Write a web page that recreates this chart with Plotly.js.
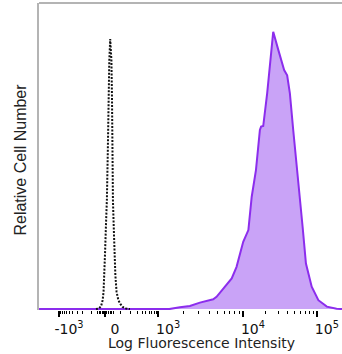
<!DOCTYPE html>
<html>
<head>
<meta charset="utf-8">
<script src="https://cdn.plot.ly/plotly-3.0.1.min.js"></script>
<style>html,body{margin:0;padding:0;background:#fff;}#chart{width:342px;height:354px;}</style>
</head>
<body>
<div id="chart"></div>
<script>
// Display channel (0-1000) and relative counts of the stained sample
var stainedChannel = [0, 430, 465, 498, 531, 553, 575, 586, 608, 636, 652, 674, 691, 702, 716, 729, 733, 740, 753, 762, 773, 790, 801, 809, 819, 828, 839, 856, 870, 881, 900, 922, 950, 982, 1000];
var stainedCount   = [0, 0, 0.6, 1.0, 2.1, 2.6, 3.2, 4.0, 6.8, 10.0, 13.8, 22.0, 25.8, 36.7, 45.4, 58.5, 59.6, 59.8, 70.5, 80.3, 90.6, 84.6, 80.3, 78.1, 76.4, 70.5, 58.5, 42.1, 26.9, 14.9, 7.3, 2.9, 0.8, 0.1, 0];

// Display channel and relative counts of the unstained control
var controlChannel = [188, 198, 205, 210, 213, 216, 218, 221, 224, 227, 229, 232, 235, 239, 241, 242, 244, 247, 249, 252, 256, 262, 269, 276, 287, 300];
var controlCount   = [0, 0.2, 1.0, 2.9, 5.6, 11.1, 18.3, 27.4, 35.6, 51.0, 65.0, 81.3, 88.2, 81.3, 68.3, 51.0, 35.6, 25.8, 18.3, 11.1, 5.6, 2.9, 1.6, 0.7, 0.2, 0];

// Axis decades (fluorescence value) and their tick labels
var decadeValues = [-1000, 0, 1000, 10000, 100000];
var decadeLabels = ['-10<sup>3</sup>', '0', '10<sup>3</sup>', '10<sup>4</sup>', '10<sup>5</sup>'];
var decadeChannels = [66, 218, 393, 673, 917];

// biexponential-like mapping from value to display channel
function tfm(v) { return Math.asinh(v / 100); }
function toChannel(v) {
  var t = tfm(v);
  for (var i = 0; i < decadeValues.length - 1; i++) {
    var t0 = tfm(decadeValues[i]), t1 = tfm(decadeValues[i + 1]);
    if (t >= t0 && t <= t1) {
      return decadeChannels[i] + (t - t0) / (t1 - t0) * (decadeChannels[i + 1] - decadeChannels[i]);
    }
  }
  return null;
}
var minorValues = [];
for (var m = 1; m <= 9; m++) { minorValues.push(-m * 100); minorValues.push(m * 100); }
for (var m = 1; m <= 5; m++) { minorValues.push(-m * 10); minorValues.push(m * 10); }
for (var m = 2; m <= 9; m++) { minorValues.push(m * 1000); minorValues.push(m * 10000); }
var minorChannels = minorValues.map(toChannel).filter(function (c) { return c !== null; });
var majorChannels = decadeValues.map(toChannel);

var traces = [
  {
    x: stainedChannel, y: stainedCount, type: 'scatter', mode: 'lines',
    fill: 'tozeroy', fillcolor: '#c9a3f7',
    line: {color: '#8c2ded', width: 2}, hoverinfo: 'skip'
  },
  {
    x: controlChannel, y: controlCount, type: 'scatter', mode: 'lines',
    line: {color: '#111', width: 2, dash: '2px,1.5px'}, hoverinfo: 'skip'
  }
];

var layout = {
  width: 342, height: 354,
  margin: {l: 39, r: 0, t: 3, b: 44},
  paper_bgcolor: '#fff', plot_bgcolor: '#fff',
  showlegend: false,
  xaxis: {
    range: [0, 1000], showgrid: false, zeroline: false, showline: false,
    tickmode: 'array', tickvals: majorChannels, ticktext: decadeLabels,
    ticks: 'outside', ticklen: 6, tickwidth: 2, tickcolor: '#000',
    ticklabelshift: 10,
    tickfont: {family: 'DejaVu Sans', size: 14, color: '#111'},
    minor: {tickmode: 'array', tickvals: minorChannels, ticks: 'outside', ticklen: 3, tickwidth: 1, tickcolor: '#000', showgrid: false}
  },
  yaxis: {
    range: [-0.3, 100], showgrid: false, zeroline: false,
    showticklabels: false, ticks: '',
    showline: true, linecolor: '#b4b4b4', linewidth: 2
  },
  shapes: [
    {type: 'line', xref: 'paper', yref: 'paper', x0: 0, x1: 1, y0: 1, y1: 1, line: {color: '#b4b4b4', width: 2}}
  ],
  annotations: [
    {text: 'Log Fluorescence Intensity', xref: 'paper', yref: 'paper', x: 0.535, y: -0.1075,
     xanchor: 'center', yanchor: 'middle', showarrow: false,
     font: {family: 'DejaVu Sans', size: 14, color: '#222'}},
    {text: 'Relative Cell Number', xref: 'paper', yref: 'paper', x: -0.0594, y: 0.49,
     xanchor: 'center', yanchor: 'middle', showarrow: false, textangle: -90,
     font: {family: 'Liberation Sans', size: 16, color: '#222'}}
  ]
};

Plotly.newPlot('chart', traces, layout, {displayModeBar: false, staticPlot: true});
</script>
</body>
</html>
